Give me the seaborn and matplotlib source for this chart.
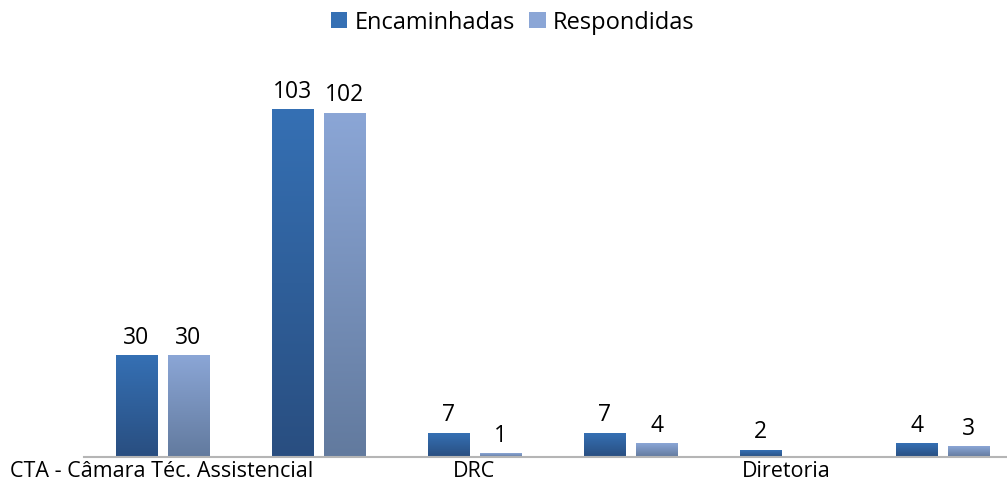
import numpy as np
import pandas as pd
import matplotlib
matplotlib.use('Agg')
import matplotlib.pyplot as plt
import seaborn as sns
from matplotlib.colors import LinearSegmentedColormap
from matplotlib.patches import Patch

categories = ['CTA - Câmara Téc. Assistencial', 'Grupo 2', 'DRC', 'Grupo 4', 'Diretoria', 'Grupo 6']
tick_labels = ['CTA - Câmara Téc. Assistencial', '', 'DRC', '', 'Diretoria', '']
series = ['Encaminhadas', 'Respondidas']
encaminhadas = [30, 103, 7, 7, 2, 4]
respondidas = [30, 102, 1, 4, 0, 3]

df = pd.DataFrame({
    'categoria': categories * 2,
    'serie': [series[0]] * len(categories) + [series[1]] * len(categories),
    'valor': encaminhadas + respondidas,
})

# top / bottom colours of each gradient
grad_colors = {
    'Encaminhadas': ('#3570B4', '#294E80'),
    'Respondidas': ('#8BA6D6', '#627A9E'),
}

sns.set_style('white')
plt.rcParams['font.family'] = ['Open Sans', 'DejaVu Sans']
plt.rcParams['text.color'] = 'black'
plt.rcParams['xtick.color'] = 'black'

fig = plt.figure(figsize=(10.07, 4.81), dpi=100)
ax = fig.add_axes([84 / 1007, 23 / 481, 937 / 1007, 408 / 481])

sns.barplot(data=df, x='categoria', y='valor', hue='serie', order=categories,
            hue_order=series, width=0.666, gap=0.21, legend=False, ax=ax,
            palette=[grad_colors[s][0] for s in series], saturation=1)

grad = np.linspace(0, 1, 256).reshape(-1, 1)
for cont, s in zip(ax.containers, series):
    top, bottom = grad_colors[s]
    cmap = LinearSegmentedColormap.from_list('g_' + s, [bottom, top])
    for bar in cont:
        h = bar.get_height()
        if h <= 0:
            continue
        x, w = bar.get_x(), bar.get_width()
        ax.imshow(grad, cmap=cmap, aspect='auto', origin='lower',
                  extent=[x, x + w, 0, h], zorder=bar.get_zorder() + 0.1)
    labels = [f'{v:.0f}' if v > 0 else '' for v in cont.datavalues]
    ax.bar_label(cont, labels=labels, padding=5, fontsize=16.5, color='black')

ax.set_xlim(-0.5, len(categories) - 0.5)
ax.set_ylim(0, 121)
ax.set_xticks(range(len(categories)))
ax.set_xticklabels(tick_labels, fontsize=15.5)
ax.tick_params(axis='x', length=0, pad=2)
ax.set_yticks([])
ax.set_xlabel('')
ax.set_ylabel('')

for side in ['top', 'right', 'left']:
    ax.spines[side].set_visible(False)
ax.spines['bottom'].set_color('#B5B5B5')
ax.spines['bottom'].set_linewidth(1.5)

handles = [Patch(facecolor=grad_colors[s][0], edgecolor='none') for s in series]
fig.legend(handles, series, loc='center', bbox_to_anchor=(0.509, 0.952), ncol=2,
           frameon=False, fontsize=17, handlelength=0.7, handleheight=0.7,
           handletextpad=0.3, columnspacing=0.6)

fig.savefig('out.png', dpi=100, facecolor='w')
